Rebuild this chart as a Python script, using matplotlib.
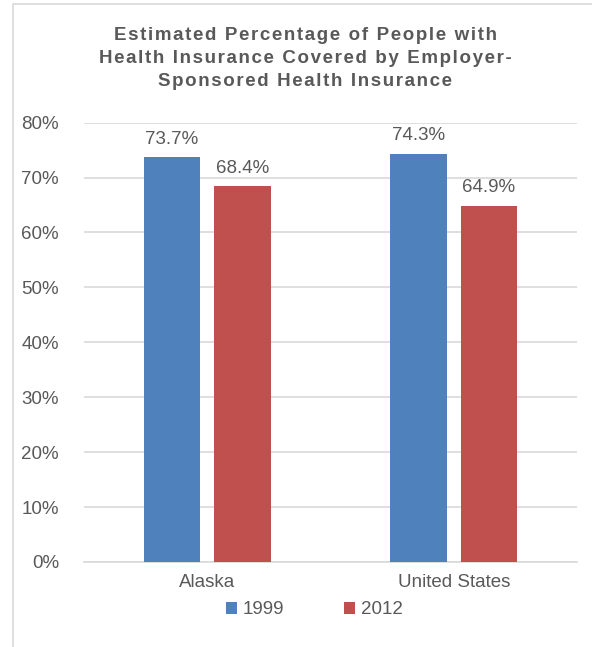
import numpy as np
import matplotlib.pyplot as plt
from matplotlib.patches import Rectangle, Patch

# Share of people covered by employer-sponsored insurance
regions = ["Alaska", "United States"]
years = ["1999", "2012"]
pct_1999 = [73.7, 74.3]
pct_2012 = [68.4, 64.9]

title_lines = ["Estimated Percentage of People with",
               "Health Insurance Covered by Employer-",
               "Sponsored Health Insurance"]

blue = "#4F81BD"
red = "#C0504D"
grey_text = "#595959"
grid_grey = "#D9D9D9"

plt.rcParams['font.family'] = ['Liberation Sans', 'DejaVu Sans']


def spaced(s):
    # loosen the tracking a little with hair spaces
    return "\u200a".join(s)


fig = plt.figure(figsize=(5.92, 6.47), dpi=100)
ax = fig.add_axes([0.1419, 0.1314, 0.8328, 0.679])

# chart frame around everything
fig.patches.append(Rectangle((12.5 / 592, -0.1), 1.2, 1 - 3.5 / 647 + 0.1,
                             transform=fig.transFigure, fill=False,
                             edgecolor=grid_grey, linewidth=1.2))

x = np.arange(len(regions))
width = 0.231
offset = 0.143

b1 = ax.bar(x - offset, np.array(pct_1999) / 100, width, color=blue, zorder=3)
b2 = ax.bar(x + offset, np.array(pct_2012) / 100, width, color=red, zorder=3)

for bars, vals in ((b1, pct_1999), (b2, pct_2012)):
    for rect, v in zip(bars, vals):
        ax.annotate(f"{v:.1f}%", (rect.get_x() + rect.get_width() / 2, rect.get_height()),
                    xytext=(0, 7), textcoords="offset points", ha="center", va="bottom",
                    fontsize=13.5, color=grey_text)

ax.set_xlim(-0.5, 1.5)
ax.set_ylim(0, 0.8)
ax.set_yticks(np.arange(0, 0.81, 0.1))
ax.set_yticklabels([f"{int(round(t * 100))}%" for t in np.arange(0, 0.81, 0.1)])
ax.set_xticks(x)
ax.set_xticklabels(regions)
ax.tick_params(axis="both", length=0, labelsize=13.5, labelcolor=grey_text)
ax.tick_params(axis="y", pad=18)
ax.tick_params(axis="x", pad=9)

ax.grid(axis="y", color=grid_grey, linewidth=1.2, zorder=0)
for side in ("top", "right", "left"):
    ax.spines[side].set_visible(False)
ax.spines["bottom"].set_color(grid_grey)
ax.spines["bottom"].set_linewidth(1.2)

fig.text(0.516, 1 - 58.5 / 647, "\n".join(spaced(s) for s in title_lines),
         ha="center", va="center", fontsize=13.5, fontweight="bold", color=grey_text,
         linespacing=1.45)

handles = [Patch(facecolor=blue), Patch(facecolor=red)]
fig.legend(handles, years, loc="center", bbox_to_anchor=(0.531, 1 - 610 / 647),
           ncol=2, frameon=False, fontsize=13.5, labelcolor=grey_text,
           handlelength=0.6, handleheight=0.6, handletextpad=0.3, columnspacing=3.2)

fig.savefig("out.png", dpi=100)
